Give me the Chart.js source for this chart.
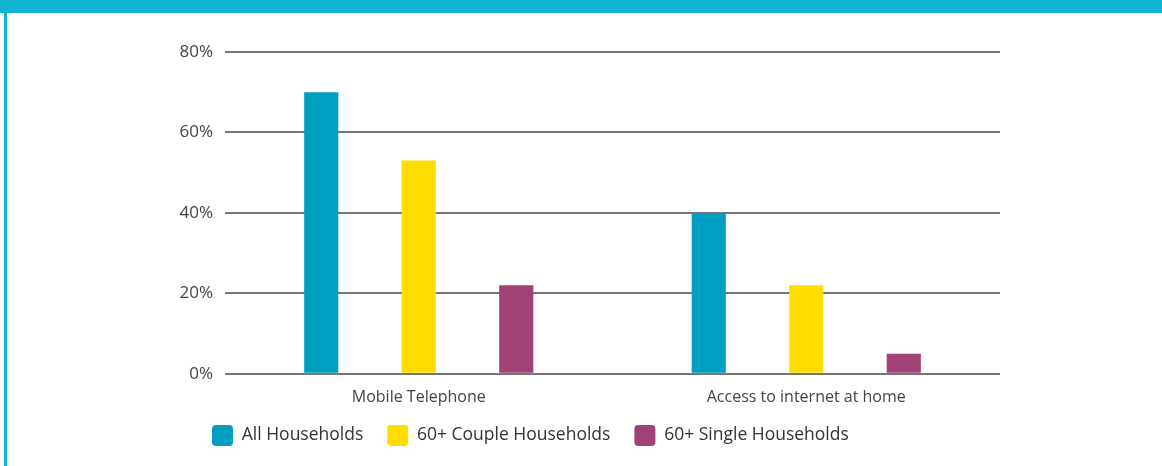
<!DOCTYPE html>
<html>
<head>
<meta charset="utf-8">
<script src="https://cdn.jsdelivr.net/npm/chart.js@4/dist/chart.umd.min.js"></script>
<style>
  html, body { margin: 0; padding: 0; background: #fff; width: 1162px; height: 466px; overflow: hidden; }
  #header { position: absolute; left: 0; top: 0; width: 1162px; height: 13px; background: #10b3d0; }
  #leftbar { position: absolute; left: 4px; top: 0; width: 3px; height: 466px; background: #10b3d0; }
  #wrap { position: absolute; left: 0; top: 0; width: 1162px; height: 466px; }
</style>
</head>
<body>
<div id="wrap"><canvas id="c" width="1162" height="466"></canvas></div>
<div id="header"></div>
<div id="leftbar"></div>
<script>
const categories = ["Mobile Telephone", "Access to internet at home"];
const seriesNames = ["All Households", "60+ Couple Households", "60+ Single Households"];
const allHouseholds = [70, 40];
const coupleHouseholds = [53, 22];
const singleHouseholds = [22, 5];
const yTicks = [0, 20, 40, 60, 80];
const colors = ["#009fc2", "#ffdd00", "#a04275"];

const FONT = "'Open Sans', 'Noto Sans', sans-serif";

new Chart(document.getElementById('c'), {
  type: 'bar',
  data: {
    labels: categories,
    datasets: [
      { label: seriesNames[0], data: allHouseholds, backgroundColor: colors[0] },
      { label: seriesNames[1], data: coupleHouseholds, backgroundColor: colors[1] },
      { label: seriesNames[2], data: singleHouseholds, backgroundColor: colors[2] }
    ]
  },
  options: {
    responsive: false,
    animation: false,
    categoryPercentage: 0.755,
    barPercentage: 0.35,
    layout: { padding: { left: 0, right: 162, top: 52, bottom: -2 } },
    plugins: {
      tooltip: { enabled: false },
      legend: {
        position: 'bottom',
        align: 'start',
        labels: {
          font: { family: FONT, size: 17.5 },
          color: '#333',
          boxWidth: 21,
          boxHeight: 21,
          useBorderRadius: true,
          borderRadius: 4,
          padding: 24,
          generateLabels(chart) {
            return chart.data.datasets.map((d, i) => ({
              text: d.label, fillStyle: d.backgroundColor, strokeStyle: d.backgroundColor,
              lineWidth: 0, borderRadius: 4, datasetIndex: i, hidden: false, fontColor: '#333'
            }));
          }
        }
      }
    },
    scales: {
      x: {
        grid: { display: false },
        border: { display: false },
        ticks: { font: { family: FONT, size: 16 }, color: '#444', padding: 6 }
      },
      y: {
        min: 0, max: 80,
        afterFit(scale) { scale.width = 225; },
        afterBuildTicks(scale) { scale.ticks = yTicks.map(v => ({ value: v })); },
        grid: { color: '#777', lineWidth: 2, drawTicks: false },
        border: { display: false },
        ticks: {
          font: { family: FONT, size: 17 }, color: '#444', padding: 12,
          callback: v => v + '%'
        }
      }
    }
  },
  plugins: [{
    id: 'legendPlace',
    afterLayout(chart) {
      const lg = chart.legend;
      if (!lg) return;
      const w = lg.width, h = lg.height;
      lg.left = 212 - 24; lg.right = lg.left + w;
      lg.top = 425 - 24; lg.bottom = lg.top + h;
    }
  }]
});
</script>
</body>
</html>
